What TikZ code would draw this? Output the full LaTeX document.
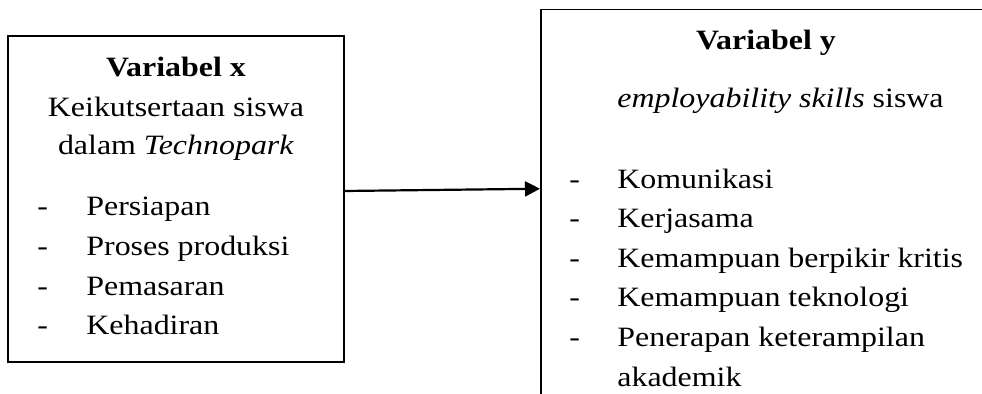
\documentclass[tikz,border=0pt]{standalone}
\usepackage{fontspec}
\setmainfont{Liberation Serif}[FakeStretch=1.14]
\usetikzlibrary{arrows,arrows.meta,positioning}

\begin{document}
\begin{tikzpicture}[x=0.5pt,y=-0.5pt]
	\tikzstyle{frame} = [draw,line width=0.75pt,rectangle,inner sep=0pt]
	\tikzstyle{txt} = [inner sep=0pt,font=\fontsize{14}{16}\selectfont]
	\tikzstyle{head} = [txt,anchor=base,font=\fontsize{14}{16}\selectfont\bfseries]
	\tikzstyle{line} = [txt,anchor=base]
	\tikzstyle{item} = [txt,anchor=base west]
	\clip (0,0) rectangle (982,394);
		% Boxes
		\node[frame,minimum width=168pt,minimum height=163pt] (varx) at (176,199) {};
		\node[frame,minimum width=240pt,minimum height=210pt,anchor=north west] (vary) at (540,9) {};
		% Variabel x
		\node[head] (x0) at (176,77) {Variabel x};
		\node[line] (x1) at (176,117) {Keikutsertaan siswa};
		\node[line] (x2) at (176,155) {dalam \textit{Technopark}};
		\node[item] (xd3) at (37,216) {-};
		\node[item] (x3) at (86,216) {Persiapan};
		\node[item] (xd4) at (37,256) {-};
		\node[item] (x4) at (86,256) {Proses produksi};
		\node[item] (xd5) at (37,296) {-};
		\node[item] (x5) at (86,296) {Pemasaran};
		\node[item] (xd6) at (37,335) {-};
		\node[item] (x6) at (86,335) {Kehadiran};
		% Variabel y
		\node[head] (y0) at (766,50) {Variabel y};
		\node[item] (y1) at (617,108) {\textit{employability skills} siswa};
		\node[item] (yd2) at (569,189) {-};
		\node[item] (y2) at (617,189) {Komunikasi};
		\node[item] (yd3) at (569,228) {-};
		\node[item] (y3) at (617,228) {Kerjasama};
		\node[item] (yd4) at (569,268) {-};
		\node[item] (y4) at (617,268) {Kemampuan berpikir kritis};
		\node[item] (yd5) at (569,307) {-};
		\node[item] (y5) at (617,307) {Kemampuan teknologi};
		\node[item] (yd6) at (569,347) {-};
		\node[item] (y6) at (617,347) {Penerapan keterampilan};
		\node[item] (y7) at (617,387) {akademik};
		% Arrow
		\draw[line width=1.1pt,-{Triangle[length=7.5pt,width=7.5pt]}] ([yshift=4pt]varx.east) -- ([yshift=15.5pt]vary.west);
\end{tikzpicture}
\end{document}
